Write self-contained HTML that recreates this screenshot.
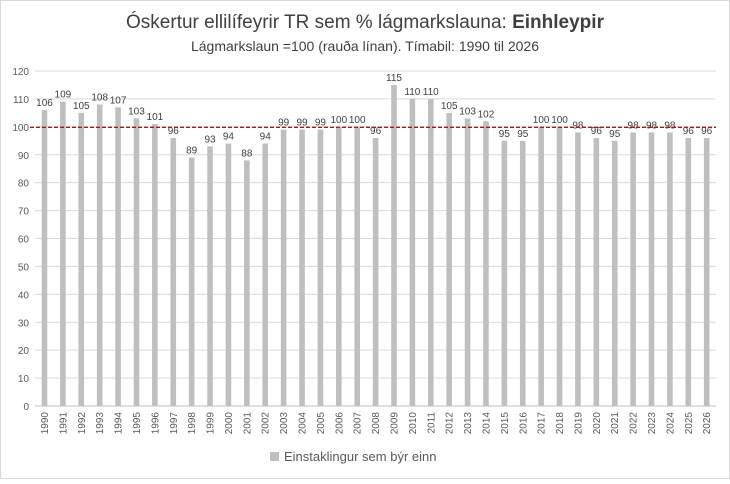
<!DOCTYPE html>
<html><head><meta charset="utf-8"><style>
body{margin:0;background:#fff;font-family:"Liberation Sans",sans-serif}
svg text{font-family:"Liberation Sans",sans-serif}
</style></head><body>
<svg width="730" height="479" viewBox="0 0 730 479">
<rect x="0.5" y="0.5" width="729" height="478" fill="#fff" stroke="#d9d9d9"/>
<text x="365" y="28" text-anchor="middle" font-size="19" fill="#404040">Óskertur ellilífeyrir TR sem % lágmarkslauna: <tspan font-weight="bold">Einhleypir</tspan></text>
<text x="365" y="51" text-anchor="middle" font-size="14" fill="#404040">Lágmarkslaun =100 (rauða línan). Tímabil: 1990 til 2026</text>
<g id="grid"></g><g id="bars"></g><g id="labels"></g>
<line id="ref" stroke="#e00000" stroke-width="1.3" stroke-dasharray="4,2"/>
<rect x="270" y="452" width="9" height="9" fill="#bfbfbf"/>
<text x="284" y="461" font-size="13" fill="#595959">Einstaklingur sem býr einn</text>
</svg>
<script>
const years=[1990,1991,1992,1993,1994,1995,1996,1997,1998,1999,2000,2001,2002,2003,2004,2005,2006,2007,2008,2009,2010,2011,2012,2013,2014,2015,2016,2017,2018,2019,2020,2021,2022,2023,2024,2025,2026];
const values=[106,109,105,108,107,103,101,96,89,93,94,88,94,99,99,99,100,100,96,115,110,110,105,103,102,95,95,100,100,98,96,95,98,98,98,96,96];
const yTicks=[0,10,20,30,40,50,60,70,80,90,100,110,120];
const refValue=100;
const NS="http://www.w3.org/2000/svg";
const y=v=>406-v*(335/120);
const x=i=>44.5+i*(662.2/36);
function mk(tag,attrs,parent){const e=document.createElementNS(NS,tag);for(const k in attrs)e.setAttribute(k,attrs[k]);document.getElementById(parent).appendChild(e);return e;}
yTicks.forEach(t=>{
 const l=mk('line',{x1:35,x2:716,y1:y(t),y2:y(t),stroke:t===0?'#bfbfbf':'#d9d9d9','stroke-width':1},'grid');
 
 
 const tx=mk('text',{x:29,y:y(t)+4,'text-anchor':'end','font-size':10,fill:'#595959'},'grid');
 tx.textContent=t;
 
 
});
values.forEach((v,i)=>{
 const r=mk('rect',{x:x(i)-2.8,y:y(v),width:5.6,height:y(0)-y(v),fill:'#bfbfbf'},'bars');
 
 
 const t=mk('text',{x:x(i),y:y(v)-4,'text-anchor':'middle','font-size':10,fill:'#404040'},'labels');
 t.textContent=v;
 
 
 const yl=mk('text',{transform:`translate(${x(i)+3.5},412) rotate(-90)`,'text-anchor':'end','font-size':10,fill:'#595959'},'labels');
 yl.textContent=years[i];
 
 
});
const ref=document.getElementById('ref');
ref.setAttribute('x1',30);ref.setAttribute('x2',716);ref.setAttribute('y1',y(refValue)+0.5);ref.setAttribute('y2',y(refValue)+0.5);
</script>
</body></html>
